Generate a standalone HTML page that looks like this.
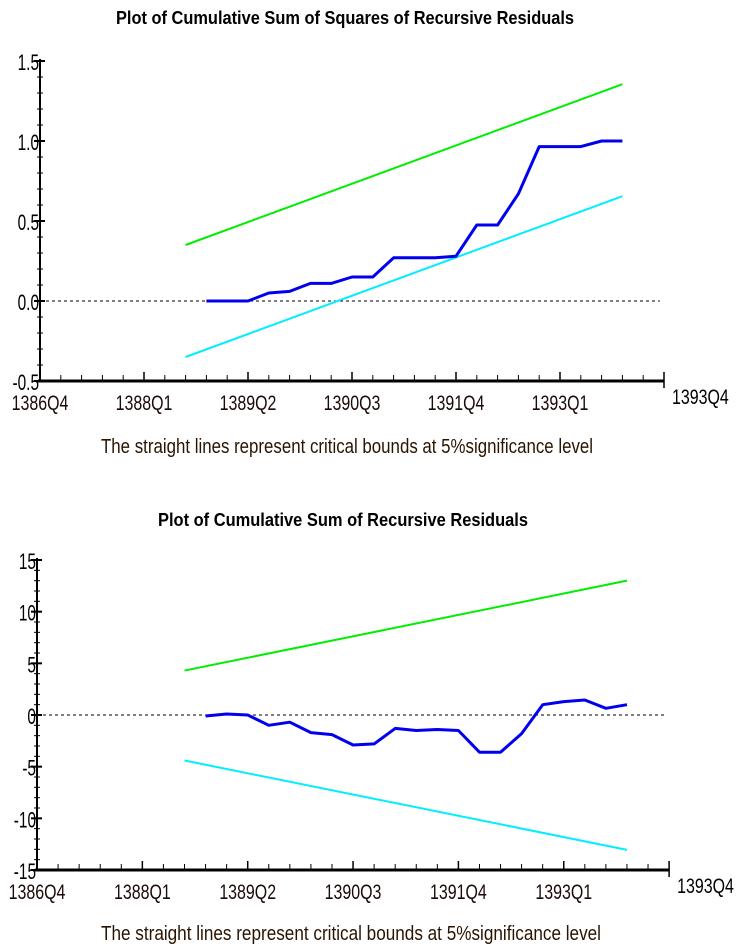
<!DOCTYPE html>
<html><head><meta charset="utf-8"><style>
html,body{margin:0;padding:0;background:#fff;}
svg{display:block;font-family:"Liberation Sans",Arial,sans-serif;}
</style></head><body>
<svg id="svg" width="741" height="951" viewBox="0 0 741 951" xmlns="http://www.w3.org/2000/svg">
<text x="345" y="24" text-anchor="middle" font-size="18" font-weight="bold" textLength="458" lengthAdjust="spacingAndGlyphs">Plot of Cumulative Sum of Squares of Recursive Residuals</text>
<text x="101" y="453" font-size="20" fill="#2a1400" textLength="492" lengthAdjust="spacingAndGlyphs">The straight lines represent critical bounds at 5%significance level</text>
<text x="343" y="526" text-anchor="middle" font-size="18" font-weight="bold" textLength="370" lengthAdjust="spacingAndGlyphs">Plot of Cumulative Sum of Recursive Residuals</text>
<text x="101" y="940" font-size="20" fill="#2a1400" textLength="500" lengthAdjust="spacingAndGlyphs">The straight lines represent critical bounds at 5%significance level</text>
<g id="top"></g><g id="bot"></g>
</svg>
<script>
// shared category axis: quarter index 0 = 1386Q4
const xTickLabels = ["1386Q4","1388Q1","1389Q2","1390Q3","1391Q4","1393Q1"];
const xTickIdx = [0,5,10,15,20,25];
const seriesStart = 8;
// top chart: CUSUM of squares
const sqValues = [0,0,0,0.05,0.06,0.11,0.11,0.15,0.15,0.27,0.27,0.27,0.28,0.475,0.475,0.67,0.965,0.965,0.965,1.0,1.0];
const sqUpper = [0.35,1.355];
const sqLower = [-0.35,0.655];
const sqBoundIdx = [7,28];
const sqYTicks = [1.5,1.0,0.5,0.0,-0.5];
const sqYLabels = ["1.5","1.0","0.5","0.0","-0.5"];
// bottom chart: CUSUM
const csValues = [-0.1,0.1,0,-1.0,-0.7,-1.7,-1.9,-2.9,-2.8,-1.3,-1.5,-1.4,-1.5,-3.6,-3.6,-1.8,1.0,1.3,1.45,0.65,1.0];
const csUpper = [4.3,13.0];
const csLower = [-4.4,-13.05];
const csBoundIdx = [7,28];
const csYTicks = [15,10,5,0,-5,-10,-15];
const csYLabels = ["15","10","5","0","-5","-10","-15"];

const NS="http://www.w3.org/2000/svg";
function mk(parent,tag,attrs){const e=document.createElementNS(NS,tag);for(const k in attrs)e.setAttribute(k,attrs[k]);parent.appendChild(e);return e;}

function chart(g,cfg){
  const X=i=>cfg.x0+i*cfg.dq;
  const Y=v=>cfg.yTop+(cfg.yMax-v)*(cfg.yBot-cfg.yTop)/(cfg.yMax-cfg.yMin);
  const ax=mk(g,'line',{x1:cfg.x0,y1:cfg.yTop-2,x2:cfg.x0,y2:cfg.yBot,stroke:'#000','stroke-width':2});
  
  
  const bx=mk(g,'line',{x1:cfg.x0-2,y1:cfg.yBot,x2:X(30),y2:cfg.yBot,stroke:'#000','stroke-width':3});
  
  
  const n=Math.round((cfg.yMax-cfg.yMin)/cfg.minor);
  for(let k=0;k<=n;k++){const v=cfg.yMax-k*cfg.minor;const t=mk(g,'line',{x1:cfg.x0-3,y1:Y(v),x2:cfg.x0+3,y2:Y(v),stroke:'#000','stroke-width':1});
    
    }
  cfg.yTicks.forEach((v,i)=>{
    const t=mk(g,'line',{x1:cfg.x0-6,y1:Y(v),x2:cfg.x0+5,y2:Y(v),stroke:'#000','stroke-width':2});
    
    
    const l=mk(g,'text',{transform:`translate(${cfg.x0-1},${Y(v)+9}) scale(0.7,1)`,'text-anchor':'end','font-size':22});
    l.textContent=cfg.yLabels[i];
    
    
  });
  for(let q=0;q<=30;q++){
    const maj=xTickIdx.indexOf(q)>=0||q===30;
    const t=mk(g,'line',{x1:X(q),y1:cfg.yBot-(maj?9:6),x2:X(q),y2:cfg.yBot+(q===30?7:0),stroke:'#000','stroke-width':maj?1.5:1});
    
    
  }
  xTickLabels.forEach((s,i)=>{
    const l=mk(g,'text',{transform:`translate(${X(xTickIdx[i])},${cfg.yBot+29}) scale(0.76,1)`,'text-anchor':'middle','font-size':21,fill:'#1a0a08'});
    l.textContent=s;
    
    
  });
  const le=mk(g,'text',{transform:`translate(${X(30)+8},${cfg.yBot+23}) scale(0.76,1)`,'font-size':21});
  le.textContent="1393Q4";
  
  
  const z=mk(g,'line',{x1:cfg.x0,y1:Y(0),x2:X(29.8),y2:Y(0),stroke:'#000','stroke-width':1,'stroke-dasharray':'3,3'});
  
  
  const up=mk(g,'line',{x1:X(cfg.bIdx[0]),y1:Y(cfg.upper[0]),x2:X(cfg.bIdx[1]),y2:Y(cfg.upper[1]),stroke:'#00ee00','stroke-width':2});
  
  
  const lo=mk(g,'line',{x1:X(cfg.bIdx[0]),y1:Y(cfg.lower[0]),x2:X(cfg.bIdx[1]),y2:Y(cfg.lower[1]),stroke:'#00eeff','stroke-width':2});
  
  
  const pts=cfg.vals.map((v,i)=>X(seriesStart+i).toFixed(1)+','+Y(v).toFixed(1)).join(' ');
  const p=mk(g,'polyline',{points:pts,fill:'none',stroke:'#0000ee','stroke-width':3,'stroke-linejoin':'round'});
  
  
}
chart(document.getElementById('top'),{x0:40,dq:20.8,yTop:61,yBot:381,yMax:1.5,yMin:-0.5,minor:0.1,yTicks:sqYTicks,yLabels:sqYLabels,upper:sqUpper,lower:sqLower,bIdx:sqBoundIdx,vals:sqValues,name:'cusumsq-line'});
chart(document.getElementById('bot'),{x0:37,dq:21.07,yTop:560,yBot:870,yMax:15,yMin:-15,minor:1,yTicks:csYTicks,yLabels:csYLabels,upper:csUpper,lower:csLower,bIdx:csBoundIdx,vals:csValues,name:'cusum-line'});
</script>
</body></html>
